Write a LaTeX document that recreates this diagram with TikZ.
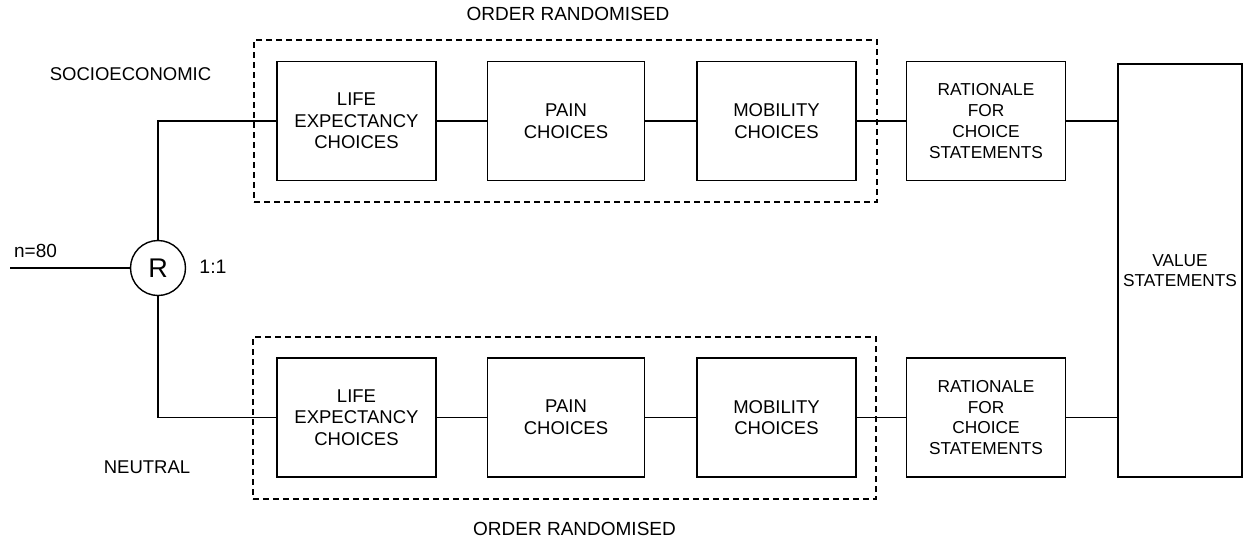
\documentclass[tikz,border=0pt]{standalone}
\usepackage{fontspec}
\setmainfont{Liberation Sans}
\begin{document}
\begin{tikzpicture}[x=1pt,y=-1pt,
  line width=1.4pt,
  lbl/.style={font=\fontsize{18.5}{21.7}\selectfont, inner sep=0pt},
  stepbox/.style={draw, minimum width=159pt, minimum height=119pt, align=center, inner sep=0pt, font=\fontsize{18.5}{21.7}\selectfont},
  ratbox/.style={draw, minimum width=159pt, minimum height=119pt, align=center, inner sep=0pt, font=\fontsize{17.3}{20.7}\selectfont},
  grp/.style={draw, dashed, dash pattern=on 6pt off 4pt, inner sep=0pt},
  conn/.style={line width=1.4pt}]
\useasboundingbox (0,0) rectangle (1243,539);
% group boxes
\node[grp, minimum width=623pt, minimum height=162pt] (g1) at (565.5,121) {};
\node[grp, minimum width=623pt, minimum height=162pt] (g2) at (564.5,418) {};
% top row
\node[stepbox] (le1) at (356.5,121) {LIFE\\EXPECTANCY\\CHOICES};
\node[stepbox, minimum width=157pt] (pa1) at (566,121) {PAIN\\CHOICES};
\node[stepbox] (mo1) at (776.5,121) {MOBILITY\\CHOICES};
\node[ratbox] (ra1) at (986,121) {RATIONALE\\FOR\\CHOICE\\STATEMENTS};
% bottom row
\node[stepbox] (le2) at (356.5,417.5) {LIFE\\EXPECTANCY\\CHOICES};
\node[stepbox, minimum width=157pt] (pa2) at (566,417.5) {PAIN\\CHOICES};
\node[stepbox] (mo2) at (776.5,417.5) {MOBILITY\\CHOICES};
\node[ratbox] (ra2) at (986,417.5) {RATIONALE\\FOR\\CHOICE\\STATEMENTS};
% value statements
\node[draw, minimum width=124pt, minimum height=413pt, align=center, inner sep=0pt, font=\fontsize{17.3}{20.7}\selectfont] (val) at (1180,270.5) {VALUE\\STATEMENTS};
% randomiser
\node[draw, circle, minimum size=55pt, inner sep=0pt, font=\fontsize{27}{30}\selectfont] (R) at (158,268) {R};
\coordinate (in) at (10,268);
% labels
\node[lbl] (soc) at (130.5,74.5) {SOCIOECONOMIC};
\node[lbl] (neu) at (147,467) {NEUTRAL};
\node[lbl, font=\fontsize{19}{22}\selectfont] (n80) at (35.5,251) {n=80};
\node[lbl, font=\fontsize{19.5}{22}\selectfont] (ratio) at (213,267) {1:1};
\node[lbl, font=\fontsize{19}{22}\selectfont] (or1) at (568,14) {ORDER RANDOMISED};
\node[lbl, font=\fontsize{19}{22}\selectfont] (or2) at (574.5,529) {ORDER RANDOMISED};
% connectors
\draw[conn] (in) -- (R.west);
\draw[conn] (R.north) |- (le1.west);
\draw[conn] (R.south) |- (le2.west);
\draw[conn] (le1) -- (pa1);
\draw[conn] (pa1) -- (mo1);
\draw[conn] (mo1) -- (ra1);
\draw[conn] (ra1.east) -- (ra1.east -| val.west);
\draw[conn] (le2) -- (pa2);
\draw[conn] (pa2) -- (mo2);
\draw[conn] (mo2) -- (ra2);
\draw[conn] (ra2.east) -- (ra2.east -| val.west);
\end{tikzpicture}
\end{document}
